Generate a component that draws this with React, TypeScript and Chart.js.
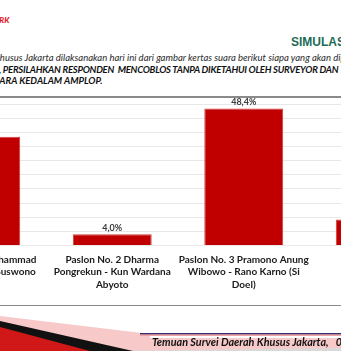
import React, { useEffect, useRef } from "react";
import { Chart, registerables } from "chart.js";

Chart.register(...registerables);

const categories: string[][] = [
  ["Paslon No. 1 Muhammad", "Ridwan Kamil - Suswono"],
  ["Paslon No. 2 Dharma", "Pongrekun - Kun Wardana", "Abyoto"],
  ["Paslon No. 3 Pramono Anung", "Wibowo - Rano Karno (Si", "Doel)"],
  ["Tidak Tahu/", "Tidak Jawab"],
];
const values: number[] = [38.4, 4.0, 48.4, 9.2];
const yMin = 0;
const yMax = 50;
const yStep = 5;

const valueLabelPlugin = {
  id: "valueLabels",
  afterDatasetsDraw(chart: any) {
    const ctx = chart.ctx;
    const meta = chart.getDatasetMeta(0);
    ctx.save();
    ctx.font = "bold 9px Lato";
    ctx.fillStyle = "#3a3a3a";
    ctx.textAlign = "center";
    ctx.textBaseline = "bottom";
    meta.data.forEach((bar: any, i: number) => {
      const v = chart.data.datasets[0].data[i] as number;
      ctx.fillText(v.toFixed(1).replace(".", ",") + "%", bar.x, bar.y - 2);
    });
    ctx.restore();
  },
};

function BarChart() {
  const ref = useRef<HTMLCanvasElement | null>(null);
  useEffect(() => {
    if (!ref.current) return;
    const chart = new Chart(ref.current, {
      type: "bar",
      data: {
        labels: categories,
        datasets: [
          {
            data: values,
            backgroundColor: "#C00000",
            borderColor: "#d53a3a",
            borderWidth: 1,
            categoryPercentage: 1,
            barPercentage: 0.6,
          },
        ],
      },
      options: {
        responsive: false,
        animation: false,
        layout: { padding: { top: 9, bottom: 0, left: 0, right: 0 } },
        plugins: { legend: { display: false }, tooltip: { enabled: false } },
        scales: {
          x: {
            grid: { display: false, drawTicks: false },
            border: { display: false },
            ticks: {
              autoSkip: false,
              maxRotation: 0,
              minRotation: 0,
              padding: 8,
              color: "#1a1a1a",
              font: { family: "Lato", size: 10, weight: "bold", lineHeight: 1.25 },
            },
          },
          y: {
            min: yMin,
            max: yMax,
            ticks: { display: false, stepSize: yStep },
            grid: { color: "#e8e8e8", lineWidth: 1, drawTicks: false },
            border: { display: false },
          },
        },
      },
      plugins: [valueLabelPlugin],
    });
    return () => chart.destroy();
  }, []);
  return (
    <canvas
      ref={ref}
      width={526}
      height={204}
      style={{ position: "absolute", left: -85, top: 95, width: 526, height: 204 }}
    />
  );
}

export default function App() {
  const italic: React.CSSProperties = {
    position: "absolute",
    fontFamily: "Lato",
    fontStyle: "italic",
    fontSize: 9.5,
    color: "#2a2a2a",
    whiteSpace: "nowrap",
    lineHeight: "11px",
  };
  return (
    <div
      style={{
        position: "absolute",
        left: 0,
        top: 0,
        width: 341,
        height: 351,
        overflow: "hidden",
        background: "#ffffff",
        fontFamily: "Lato",
      }}
    >
      <div style={{ position: "absolute", left: -29, top: 16, fontSize: 8, fontWeight: 900, fontStyle: "italic", color: "#e3192b", whiteSpace: "nowrap", lineHeight: "9px" }}>
        NETWORK
      </div>
      <div style={{ position: "absolute", left: -28, top: 26, fontSize: 4, color: "#888", whiteSpace: "nowrap", letterSpacing: 1 }}>
        consulting
      </div>
      <div style={{ position: "absolute", left: 291, top: 35, fontSize: 12, fontWeight: 900, fontFamily: "Liberation Sans", color: "#1d6b57", whiteSpace: "nowrap" }}>
        SIMULASI SURAT SUARA
      </div>
      <div style={{ ...italic, left: -6, top: 52 }}>
        Khusus Jakarta dilaksanakan hari ini dari gambar kertas suara berikut siapa yang akan dipilih
      </div>
      <div style={{ ...italic, left: -1, top: 64, fontWeight: 700, color: "#111", letterSpacing: -0.25 }}>
        , PERSILAHKAN RESPONDEN&nbsp;&nbsp;MENCOBLOS TANPA DIKETAHUI OLEH SURVEYOR DAN
      </div>
      <div style={{ ...italic, left: -12, top: 75, fontWeight: 700, color: "#111" }}>
        SUARA KEDALAM AMPLOP.
      </div>
      <div style={{ position: "absolute", left: 0, top: 96, width: 341, height: 1.5, background: "#8a8a8a" }} />
      <BarChart />
      <div style={{ position: "absolute", left: 0, top: 305, width: 341, height: 1.2, background: "#8a8a8a" }} />
      <svg width={341} height={351} style={{ position: "absolute", left: 0, top: 0 }}>
        <rect x={90} y={348} width={251} height={3} fill="#d9d9d9" />
        <polygon points="0,316 150,334 150,338 341,338 341,348 100,351 0,351" fill="#f7c9c9" />
        <polygon points="0,321 133,351 0,351" fill="#111111" />
        <polygon points="0,327 90,351 0,351" fill="#d01818" />
        <rect x={140} y={333} width={201} height={1.6} fill="#3b2b6e" />
        <rect x={140} y={334.6} width={201} height={1.4} fill="#f2a0a0" />
      </svg>
      <div style={{ position: "absolute", left: 152, top: 336, fontSize: 10.8, fontWeight: 700, fontStyle: "italic", color: "#111", whiteSpace: "nowrap", lineHeight: "12px" }}>
        Temuan Survei Daerah Khusus Jakarta,&nbsp;&nbsp;&nbsp;09 Oktober 2024
      </div>
    </div>
  );
}
